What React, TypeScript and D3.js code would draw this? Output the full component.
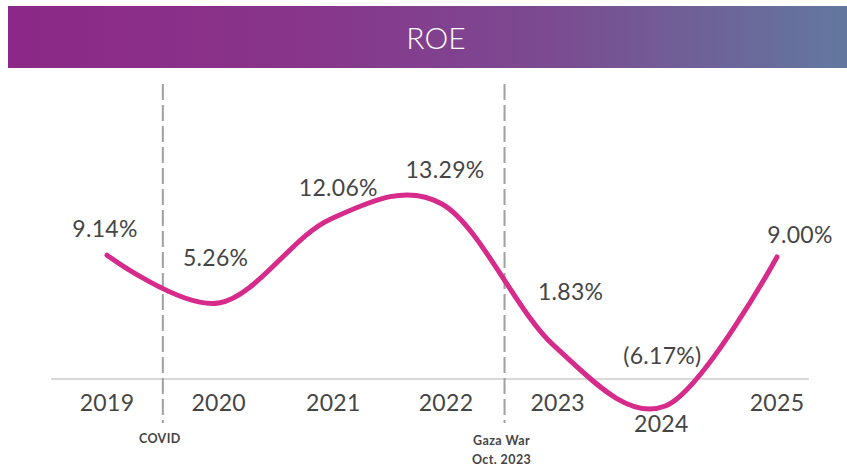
import React from 'react';
import * as d3 from 'd3';

// ---- data ----
const years = ['2019', '2020', '2021', '2022', '2023', '2024', '2025'];
const roe = [9.14, 5.26, 12.06, 13.29, 1.83, -6.17, 9.0];
const roeLabels = ['9.14%', '5.26%', '12.06%', '13.29%', '1.83%', '(6.17%)', '9.00%'];
const eventNames = [['COVID'], ['Gaza War', 'Oct. 2023']];
const eventAt = [0.5, 3.56]; // position in category-index units
const title = 'ROE';

// ---- layout (not data) ----
const W = 847;
const H = 469;
const valueLabelOffset: [number, number][] = [
  [-2, -18], [-3, -37], [8, -23], [3, -26], [17, -45], [-3, -42], [23, -14],
];
const yearLabelOffset: [number, number][] = [
  [0, 0], [0, 0], [3, 0], [4, 0], [4, 0], [-4, 21], [0, 0],
];

export default function App() {
  const x = d3.scalePoint<string>().domain(years).range([107, 777]);
  const xi = d3.scaleLinear().domain([0, years.length - 1]).range([107, 777]);
  const y = d3.scaleLinear().domain([-6.17, 0, 13.29]).range([406, 368, 204]);
  const baselineY = 379;

  const pts: [number, number][] = roe.map((v, i) => [x(years[i]) as number, y(v)]);
  const line = d3.line().curve(d3.curveCardinal.tension(0))(pts) || '';

  const font = 'Lato, "Open Sans", sans-serif';
  const textColor = '#454545';

  return (
    <svg
      width={W}
      height={H}
      style={{ position: 'absolute', left: 0, top: 0, display: 'block' }}
    >
      <defs>
        <linearGradient id="bannerGrad" x1="0" x2="1" y1="0" y2="0">
          <stop offset="0%" stopColor="#8c2887" />
          <stop offset="35%" stopColor="#88358b" />
          <stop offset="65%" stopColor="#7b4b91" />
          <stop offset="100%" stopColor="#62789f" />
        </linearGradient>
      </defs>
      <rect x={0} y={0} width={W} height={H} fill="#ffffff" />
      <rect x={8} y={6} width={W - 8} height={62} fill="url(#bannerGrad)" />
      <text
        x={436}
        y={49}
        textAnchor="middle"
        fill="#ffffff"
        fontFamily={font}
        fontWeight={300}
        fontSize={30}
      >
        {title}
      </text>

      {/* baseline */}
      <line x1={51} x2={809} y1={baselineY} y2={baselineY} stroke="#d9d9d9" strokeWidth={2} />

      {/* event lines */}
      {eventAt.map((a, i) => {
        const ex = xi(a);
        return (
          <g key={'ev' + i}>
            <line
              x1={ex}
              x2={ex}
              y1={84}
              y2={423}
              stroke="#a0a0a0"
              strokeWidth={2}
              strokeDasharray="16,5"
            />
            {eventNames[i].map((t, j) => (
              <text
                key={j}
                x={ex - 3}
                y={443 + j * 19 + (eventNames[i].length > 1 ? 2 : 0)}
                textAnchor="middle"
                fill="#444444"
                fontFamily={font}
                fontWeight={700}
                fontSize={12.5}
                letterSpacing={0.4}
              >
                {t}
              </text>
            ))}
          </g>
        );
      })}

      {/* curve */}
      <path d={line} fill="none" stroke="#d62b8b" strokeWidth={5} strokeLinecap="round" />

      {/* value labels */}
      {pts.map((p, i) => (
        <text
          key={'v' + i}
          x={p[0] + valueLabelOffset[i][0]}
          y={p[1] + valueLabelOffset[i][1]}
          textAnchor="middle"
          fill={textColor}
          fontFamily={font}
          fontWeight={400}
          fontSize={23}
          letterSpacing={0.3}
        >
          {roeLabels[i]}
        </text>
      ))}

      {/* year labels */}
      {years.map((yr, i) => (
        <text
          key={'y' + i}
          x={(x(yr) as number) + yearLabelOffset[i][0]}
          y={411 + yearLabelOffset[i][1]}
          textAnchor="middle"
          fill={textColor}
          fontFamily={font}
          fontWeight={400}
          fontSize={23}
          letterSpacing={0.3}
        >
          {yr}
        </text>
      ))}
    </svg>
  );
}
